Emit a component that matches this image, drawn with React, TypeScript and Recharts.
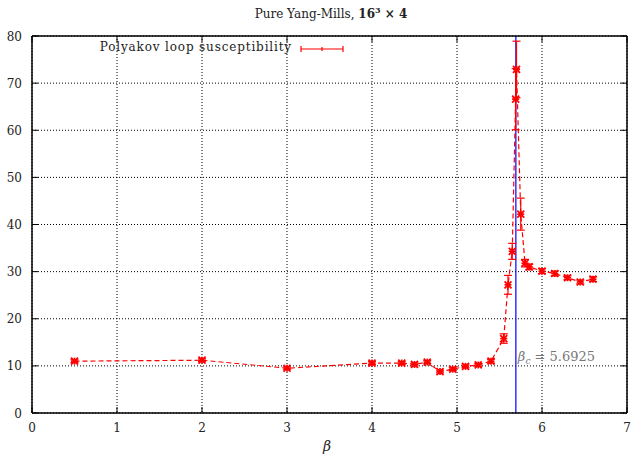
import React from 'react';
import { ComposedChart, Line, XAxis, YAxis, CartesianGrid, ErrorBar, ReferenceLine } from 'recharts';

const betas = [0.5, 2.0, 3.0, 4.0, 4.35, 4.5, 4.65, 4.8, 4.95, 5.1, 5.25, 5.4, 5.55, 5.6, 5.65, 5.69, 5.7, 5.75, 5.8, 5.85, 6.0, 6.15, 6.3, 6.45, 6.6];
const chi = [11.0, 11.2, 9.5, 10.6, 10.6, 10.3, 10.8, 8.8, 9.3, 9.9, 10.2, 11.0, 15.8, 27.2, 34.3, 66.6, 72.9, 42.2, 31.8, 31.0, 30.1, 29.6, 28.7, 27.8, 28.4];
const chiErr = [0.3, 0.3, 0.3, 0.3, 0.3, 0.3, 0.3, 0.3, 0.3, 0.3, 0.3, 0.4, 1.0, 2.0, 1.7, 6.5, 6.0, 3.4, 0.8, 0.6, 0.5, 0.5, 0.4, 0.4, 0.5];
const xTicks = [0, 1, 2, 3, 4, 5, 6, 7];
const yTicks = [0, 10, 20, 30, 40, 50, 60, 70, 80];
const betaC = 5.6925;

const data = betas.map((b, i) => ({ beta: b, chi: chi[i], err: chiErr[i] }));

const FONT = '"DejaVu Serif", serif';
const TICK = 6;

const Star = (props: any) => {
  const { cx, cy } = props;
  if (cx == null || cy == null) return null;
  const r = 3.5;
  return (
    <g stroke="#ff0000" strokeWidth={1.7}>
      <line x1={cx - r} x2={cx + r} y1={cy} y2={cy} />
      <line x1={cx} x2={cx} y1={cy - r} y2={cy + r} />
      <line x1={cx - r} y1={cy - r} x2={cx + r} y2={cy + r} />
      <line x1={cx - r} y1={cy + r} x2={cx + r} y2={cy - r} />
    </g>
  );
};

const BottomTick = (p: any) => (
  <g>
    <line x1={p.x} x2={p.x} y1={p.y} y2={p.y - TICK} stroke="#000" />
    <text x={p.x} y={p.y + 19} textAnchor="middle" fontFamily={FONT} fontSize={12} fill="#222">
      {p.payload.value}
    </text>
  </g>
);
const TopTick = (p: any) => (
  <line x1={p.x} x2={p.x} y1={p.y} y2={p.y + TICK} stroke="#000" />
);
const LeftTick = (p: any) => (
  <g>
    <line x1={p.x} x2={p.x + TICK} y1={p.y} y2={p.y} stroke="#000" />
    <text x={p.x - 10} y={p.y + 4.5} textAnchor="end" fontFamily={FONT} fontSize={12} fill="#222">
      {p.payload.value}
    </text>
  </g>
);
const RightTick = (p: any) => (
  <line x1={p.x} x2={p.x - TICK} y1={p.y} y2={p.y} stroke="#000" />
);

const BetaCLabel = (props: any) => {
  const vb = props.viewBox || {};
  return (
    <text x={vb.x + 2} y={vb.y + vb.height - 52} fontFamily={FONT} fontSize={13} fill="#777">
      <tspan fontStyle="italic">β</tspan>
      <tspan fontStyle="italic" fontSize={9} dy={3}>c</tspan>
      <tspan dy={-3}> = 5.6925</tspan>
    </text>
  );
};

export default function App() {
  return (
    <div style={{ position: 'absolute', left: 0, top: 0, width: 633, height: 457, background: '#fff' }}>
      <div style={{ position: 'absolute', left: 0, width: 662, top: 5, textAlign: 'center', fontFamily: FONT, fontSize: 12, color: '#222', whiteSpace: 'nowrap' }}>
        Pure Yang-Mills, <b>16<sup style={{ fontSize: 8 }}>3</sup> × 4</b>
      </div>
      <ComposedChart width={633} height={457} data={data} margin={{ top: 0, right: 0, bottom: 0, left: 0 }}>
        <CartesianGrid stroke="#000" strokeDasharray="1 2" />
        <XAxis dataKey="beta" type="number" domain={[0, 7]} ticks={xTicks} height={44} tickSize={0} tickMargin={0} tickLine={false} tick={<BottomTick />} axisLine={{ stroke: '#000', strokeWidth: 1.5 }} interval={0} allowDataOverflow />
        <XAxis xAxisId="top" orientation="top" dataKey="beta" type="number" domain={[0, 7]} ticks={xTicks} height={36} tickSize={0} tickMargin={0} tickLine={false} tick={<TopTick />} axisLine={{ stroke: '#000', strokeWidth: 1.5 }} interval={0} allowDataOverflow />
        <YAxis type="number" domain={[0, 80]} ticks={yTicks} width={32} tickSize={0} tickMargin={0} tickLine={false} tick={<LeftTick />} axisLine={{ stroke: '#000', strokeWidth: 1.5 }} interval={0} allowDataOverflow />
        <YAxis yAxisId="right" orientation="right" type="number" domain={[0, 80]} ticks={yTicks} width={6} tickSize={0} tickMargin={0} tickLine={false} tick={<RightTick />} axisLine={{ stroke: '#000', strokeWidth: 1.5 }} interval={0} allowDataOverflow />
        <ReferenceLine x={betaC} stroke="#0000ff" strokeWidth={1.2} label={<BetaCLabel />} ifOverflow="extendDomain" />
        <Line dataKey="chi" stroke="#ff0000" strokeWidth={1.2} strokeDasharray="5 3" dot={<Star />} activeDot={false} isAnimationActive={false}>
          <ErrorBar dataKey="err" direction="y" width={4} stroke="#ff0000" strokeWidth={1.2} isAnimationActive={false} />
        </Line>
      </ComposedChart>
      <div style={{ position: 'absolute', left: 0, width: 292, top: 40, textAlign: 'right', fontFamily: FONT, fontSize: 12, color: '#222', whiteSpace: 'nowrap', letterSpacing: 0.85 }}>
        Polyakov loop susceptibility
      </div>
      <svg style={{ position: 'absolute', left: 298, top: 44 }} width={50} height={10}>
        <g stroke="#ff0000" strokeWidth={1.2}>
          <line x1={3} x2={45} y1={5} y2={5} />
          <line x1={3} x2={3} y1={2} y2={8} />
          <line x1={45} x2={45} y1={2} y2={8} />
          <line x1={24} x2={24} y1={3} y2={7} />
        </g>
      </svg>
      <div style={{ position: 'absolute', left: 323, top: 438, fontFamily: FONT, fontSize: 14, fontStyle: 'italic', color: '#222' }}>β</div>
    </div>
  );
}
